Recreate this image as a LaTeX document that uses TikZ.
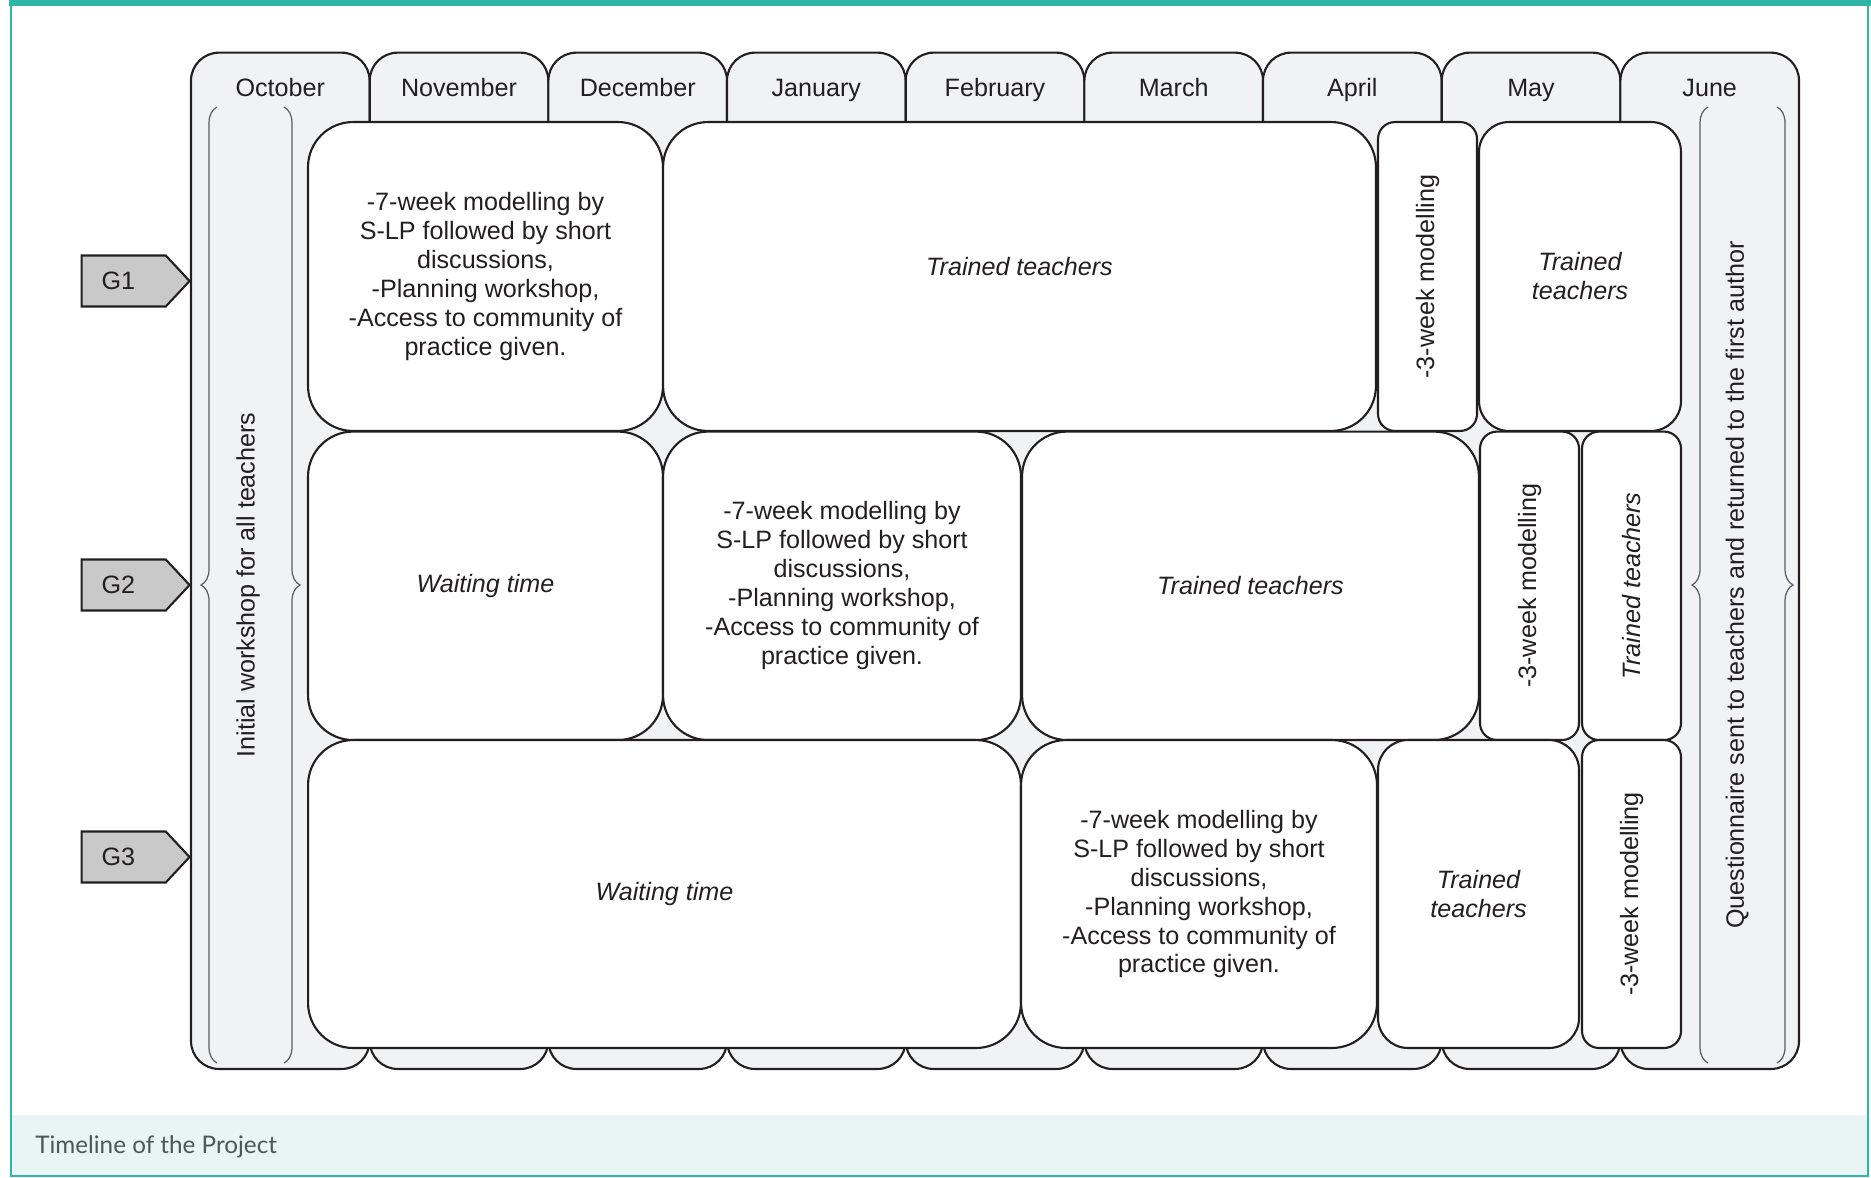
\documentclass[tikz,border=0pt]{standalone}
\usepackage{fontspec}
\setmainfont{Liberation Sans}
\newfontfamily\capfont{Lato}
\usetikzlibrary{shapes.symbols,decorations.pathreplacing,positioning}
\definecolor{tabgray}{HTML}{F1F2F4}
\definecolor{tealline}{HTML}{2EB5A6}
\definecolor{capband}{HTML}{E8F5F4}
\definecolor{taggray}{HTML}{C9C9C9}
\definecolor{brkgray}{HTML}{5C5C5C}
\definecolor{captext}{HTML}{4B5759}
\definecolor{ink}{HTML}{231F20}
\newcommand{\bodyfont}{\fontsize{14.3}{16.5}\selectfont}
\tikzset{
  month/.style={draw=ink, line width=1.2pt, fill=tabgray, rounded corners=0.56cm, minimum width=3.573cm, minimum height=20.33cm, inner sep=0pt},
  monthtxt/.style={anchor=base, text=ink},
  box/.style={draw=ink, line width=1.2pt, fill=white, rounded corners=0.9cm, align=center, inner sep=0pt, text=ink},
  mid/.style={box, rounded corners=0.6cm},
  narrow/.style={box, rounded corners=0.34cm, rotate=90},
  ital/.style={font=\bodyfont\itshape},
  gtag/.style={signal, signal to=east, signal pointer angle=94, draw=ink, line width=1.2pt, fill=taggray, minimum width=2.16cm, minimum height=1.02cm, anchor=east, text=ink, text width=0.88cm, align=left},
  brk/.style={draw=brkgray, line width=0.7pt, decorate, decoration={brace, amplitude=0.32cm}},
  sidetxt/.style={rotate=90, text=ink},
  captxt/.style={font=\capfont\fontsize{13.8}{16}\selectfont, text=captext, inner sep=0pt},
}
\begin{document}
\begin{tikzpicture}[x=0.02cm, y=-0.02cm, font=\bodyfont]
  \useasboundingbox (0,0) rectangle (1871,1177);
  % frame and caption
  \fill[capband] (11,1115) rectangle (1868,1176);
  \fill[tealline] (9,0) rectangle (1871,5.5);
  \draw[tealline, line width=1.5pt] (11,0) -- (11,1176) -- (1868,1176) -- (1868,0);
  \node[captxt, anchor=base west] (cap) at (35,1153) {Timeline of the Project};

  % month columns
  \node[month] (oct) at (280.3,560.8) {};
  \node[month] (nov) at (459.0,560.8) {};
  \node[month] (dec) at (637.7,560.8) {};
  \node[month] (jan) at (816.3,560.8) {};
  \node[month] (feb) at (995.0,560.8) {};
  \node[month] (mar) at (1173.7,560.8) {};
  \node[month] (apr) at (1352.3,560.8) {};
  \node[month] (may) at (1531.0,560.8) {};
  \node[month] (jun) at (1709.7,560.8) {};
  \node[monthtxt] (octlbl) at (280.3,96) {October};
  \node[monthtxt] (novlbl) at (459.0,96) {November};
  \node[monthtxt] (declbl) at (637.7,96) {December};
  \node[monthtxt] (janlbl) at (816.3,96) {January};
  \node[monthtxt] (feblbl) at (995.0,96) {February};
  \node[monthtxt] (marlbl) at (1173.7,96) {March};
  \node[monthtxt] (aprlbl) at (1352.3,96) {April};
  \node[monthtxt] (maylbl) at (1531.0,96) {May};
  \node[monthtxt] (junlbl) at (1709.7,96) {June};

  % G1
  \node[box, minimum width=7.10cm, minimum height=6.18cm] (a1) at (485.5,276.5)
    {-7-week modelling by\\S-LP followed by short\\discussions,\\-Planning workshop,\\-Access to community of\\practice given.};
  \node[box, ital, minimum width=14.26cm, minimum height=6.18cm, text height=0.36cm, text depth=0.4cm] (b1) at (1019.5,276.5) {Trained teachers};
  \node[narrow, minimum width=6.18cm, minimum height=1.98cm] (c1) at (1427.5,276.5) {-3-week modelling};
  \node[mid, ital, minimum width=4.04cm, minimum height=6.18cm] (d1) at (1580,276.5) {Trained\\teachers};

  % G2
  \node[box, ital, minimum width=7.10cm, minimum height=6.17cm] (a2) at (485.5,585.8) {Waiting time};
  \node[box, minimum width=7.16cm, minimum height=6.17cm] (b2) at (842,585.8)
    {-7-week modelling by\\S-LP followed by short\\discussions,\\-Planning workshop,\\-Access to community of\\practice given.};
  \node[box, ital, minimum width=9.14cm, minimum height=6.17cm] (c2) at (1250.5,585.8) {Trained teachers};
  \node[narrow, minimum width=6.17cm, minimum height=1.98cm] (d2) at (1529.5,585.8) {-3-week modelling};
  \node[narrow, ital, minimum width=6.17cm, minimum height=1.98cm] (e2) at (1631.5,585.8) {Trained teachers};

  % G3
  \node[box, ital, minimum width=14.26cm, minimum height=6.16cm] (a3) at (664.5,894) {Waiting time};
  \node[box, minimum width=7.12cm, minimum height=6.16cm] (b3) at (1199,894)
    {-7-week modelling by\\S-LP followed by short\\discussions,\\-Planning workshop,\\-Access to community of\\practice given.};
  \node[mid, ital, minimum width=4.02cm, minimum height=6.16cm] (c3) at (1478.5,894) {Trained\\teachers};
  \node[narrow, minimum width=6.16cm, minimum height=1.98cm] (d3) at (1631.5,894) {-3-week modelling};

  % braces
  \draw[brk] (217,1063) -- (217,107);
  \draw[brk] (284,107) -- (284,1063);
  \node[sidetxt] (initial) at (248,585) {Initial workshop for all teachers};
  \draw[brk] (1708,1063) -- (1708,107);
  \draw[brk] (1777,107) -- (1777,1063);
  \node[sidetxt] (quest) at (1737,585) {Questionnaire sent to teachers and returned to the first author};

  % group tags
  \node[gtag] (g1) at (191,281) {G1};
  \node[gtag] (g2) at (191,585) {G2};
  \node[gtag] (g3) at (191,857) {G3};
\end{tikzpicture}
\end{document}
